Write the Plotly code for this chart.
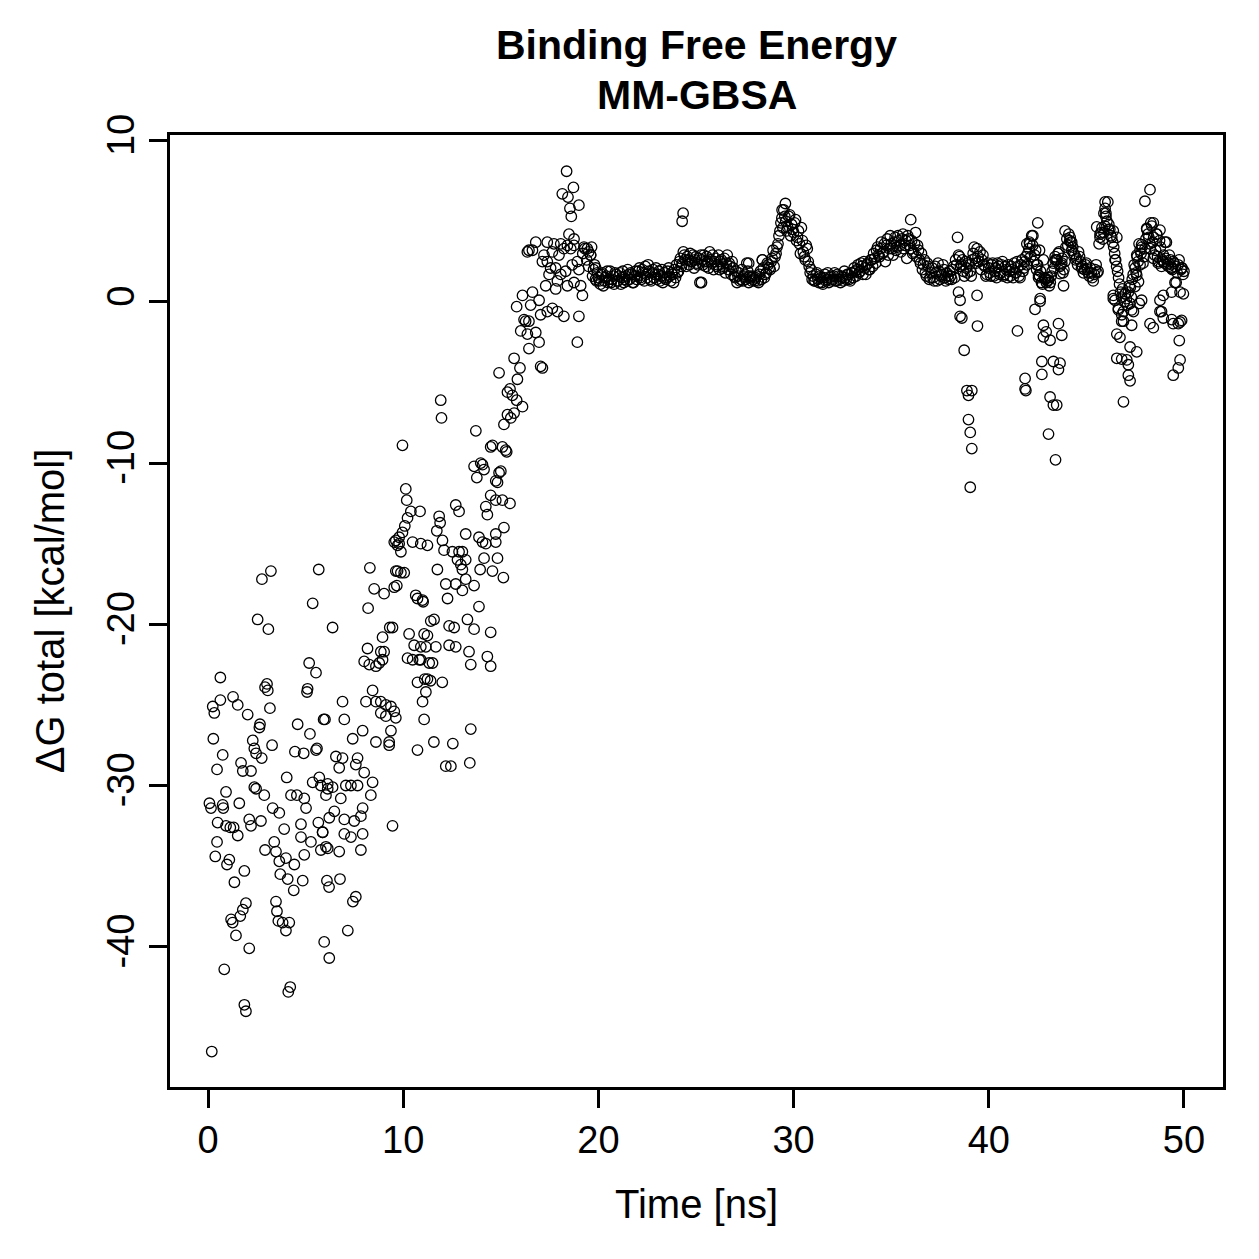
import plotly.graph_objects as go

# ---------------- data ----------------
# scattered part of the trajectory, 0 - 20 ns
early_time = [
    3.22, 2.76, 5.67, 5.36, 2.54, 3.09, 5.18, 5.53, 0.63, 3.02,
    2.92, 3.06, 5.10, 5.07, 0.63, 1.28, 1.52, 0.24, 0.32, 2.03,
    3.17, 2.66, 2.63, 4.59, 5.22, 5.92, 0.27, 2.29, 2.37, 2.46,
    2.75, 3.28, 0.75, 4.45, 4.90, 5.53, 5.58, 1.69, 1.78, 2.20,
    0.46, 4.03, 5.36, 5.70, 5.78, 6.13, 2.37, 2.46, 2.88, 0.92,
    1.60, 0.07, 0.15, 0.75, 0.78, 3.31, 3.65, 4.25, 4.55, 4.93, 5.02,
    0.49, 0.92, 1.14, 1.31, 1.52, 2.11, 2.20, 2.71, 0.46, 0.37,
    0.97, 1.09, 1.86, 1.35, 3.90, 3.39, 2.92, 3.48, 3.65, 3.99,
    3.70, 4.08, 4.42, 4.39, 4.85, 4.93, 4.76, 4.76, 5.27, 5.65,
    5.87, 5.78, 6.13, 1.94, 1.78, 1.65, 1.18, 1.26, 1.43, 2.11,
    3.48, 3.53, 3.60, 3.82, 4.16, 3.99, 5.95, 6.21, 0.83, 1.86,
    1.94, 4.21, 4.11, 0.19,
    8.29, 9.79, 9.62, 9.88, 8.51, 9.02, 9.67, 8.20, 10.73, 11.02,
    6.38, 9.31, 8.94, 8.17, 8.85, 9.02, 8.00, 8.26, 8.60, 8.77,
    8.94, 10.90, 10.90, 11.33, 11.24, 10.73,
    6.89, 6.98, 5.99, 7.92, 7.41, 8.09, 8.43, 8.60, 8.85, 9.11,
    9.37, 9.54, 8.85, 9.11, 9.62, 9.37, 8.60, 9.28, 9.28,
    6.55, 6.89, 7.66, 6.72, 7.57, 8.00, 8.43, 6.13, 6.38, 7.06,
    7.32, 7.66, 8.34, 6.80, 6.04, 7.92, 6.47, 6.21, 6.98, 7.49,
    7.83, 5.87, 6.98, 7.32, 7.92, 9.45, 6.04, 7.83, 6.72,
    7.57, 7.42, 7.16, 6.76, 6.09, 6.20,
    11.92, 11.96, 13.72, 9.96, 14.48, 15.25, 13.63, 14.06, 13.77, 14.91,
    14.83, 10.13, 10.18, 10.39, 10.22, 10.08, 9.96, 9.79, 9.62, 9.71,
    9.88, 9.54, 10.86, 12.69, 12.86, 11.84, 11.89, 11.72, 14.48, 14.74,
    15.08, 15.47, 14.23, 14.31, 15.16, 14.74, 14.74, 13.20, 13.88, 14.06,
    14.23, 10.48, 10.90, 11.24, 12.01, 12.09, 12.52, 12.86, 13.03, 12.78,
    12.95, 13.20, 13.03, 14.14, 14.83, 11.75, 13.94, 14.57, 15.13, 12.18,
    12.69, 13.03, 13.20, 13.63, 9.71, 10.05, 9.54, 10.64, 10.99, 12.27,
    13.88, 9.45, 10.30, 11.07, 11.41, 11.58, 12.35, 12.61, 13.29, 13.63,
    14.48, 11.24, 10.56, 11.16, 11.67, 12.35, 12.69, 13.37, 13.46, 14.31,
    14.48, 10.22, 10.48, 10.82, 11.50,
    11.10, 11.40, 12.00, 10.73, 11.07, 10.99, 11.16, 11.57, 12.54, 12.18,
    12.44, 13.41, 13.46,
    18.37, 18.72, 18.15, 18.44, 19.00, 18.54, 18.61, 18.49, 18.75,
    16.44, 16.79, 17.38, 17.72, 18.07, 18.41, 18.75, 19.26, 19.43, 19.60,
    19.86, 16.36, 16.62, 17.21, 17.64, 17.98, 18.23, 18.58, 17.13, 17.38,
    17.55, 17.81, 18.07, 18.32, 18.66, 18.92, 19.00, 17.47, 17.90, 17.30,
    17.81, 18.41, 18.75, 19.09, 19.18,
    16.11, 16.62, 16.96, 16.53, 15.81, 16.19, 16.44, 17.04, 17.38, 17.64,
    17.90, 18.23, 19.00, 16.02, 16.36, 16.79, 16.96, 16.44, 16.27, 18.92,
    17.04, 17.13, 15.68, 15.98, 15.85, 15.47, 15.34, 15.59, 15.81, 16.11,
    15.68, 15.34, 15.51, 15.16, 14.91, 14.57, 15.08, 15.30, 13.97, 14.14,
    15.00, 14.74, 19.20, 19.30, 19.40, 19.50, 19.50,
]
early_dg = [
    -16.7, -17.2, -16.6, -18.7, -19.7, -20.3, -22.4, -23.0, -23.3, -23.7,
    -23.9, -24.1, -24.0, -24.2, -24.7, -24.5, -25.0, -25.1, -25.5, -25.6,
    -25.2, -26.2, -26.4, -26.2, -26.8, -25.9, -27.1, -27.2, -27.7, -28.0,
    -28.3, -27.5, -28.1, -27.9, -28.0, -27.8, -27.7, -28.6, -29.1, -29.1,
    -29.0, -29.5, -29.8, -29.5, -30.0, -30.2, -30.1, -30.2, -30.6, -30.4,
    -31.1, -31.1, -31.4, -31.2, -31.4, -31.4, -31.7, -30.6, -30.6, -30.8, -31.4,
    -32.3, -32.5, -32.6, -32.6, -33.1, -32.1, -32.5, -32.2, -33.5, -34.4,
    -34.9, -34.6, -35.3, -36.0, -32.7, -33.5, -34.0, -34.1, -34.7, -34.5,
    -35.5, -35.8, -34.9, -36.5, -35.9, -34.3, -33.2, -32.4, -33.5, -32.3,
    -32.9, -34.0, -33.9, -37.3, -37.7, -38.1, -38.3, -38.5, -39.3, -40.1,
    -37.2, -37.8, -38.4, -38.5, -38.5, -39.0, -39.7, -40.7, -41.4, -43.6,
    -44.0, -42.5, -42.8, -46.5,
    -16.5, -15.0, -16.7, -16.8, -17.8, -18.1, -17.6, -19.0, -18.4, -18.6,
    -20.2, -20.2, -20.8, -21.5, -21.7, -21.7, -22.3, -22.5, -22.6, -22.4,
    -22.2, -21.4, -22.2, -22.4, -23.4, -23.6,
    -24.8, -25.9, -25.9, -26.6, -27.1, -24.8, -24.1, -24.8, -24.8, -25.0,
    -25.1, -25.4, -25.5, -25.7, -25.8, -26.6, -27.3, -27.3, -27.5,
    -28.2, -28.3, -28.3, -28.9, -28.7, -29.2, -29.8, -29.9, -30.1, -30.0,
    -30.0, -30.0, -30.6, -30.8, -30.6, -31.4, -31.6, -32.0, -32.1, -32.2,
    -31.9, -32.9, -33.0, -33.2, -33.0, -32.5, -33.8, -34.0, -34.1,
    -36.9, -37.2, -39.0, -35.8, -35.9, -36.3,
    -6.1, -7.2, -8.0, -8.9, -9.0, -9.2, -10.2, -10.1, -10.9, -10.6,
    -11.2, -11.6, -12.3, -13.0, -13.4, -13.9, -14.3, -14.6, -14.8, -15.1,
    -15.5, -14.9, -13.0, -12.6, -13.0, -13.3, -13.7, -14.2, -12.0, -12.3,
    -12.3, -12.5, -12.7, -13.2, -14.0, -14.4, -14.9, -14.4, -14.6, -14.9,
    -15.0, -14.9, -15.0, -15.1, -14.8, -15.4, -15.5, -15.5, -15.5, -16.0,
    -16.3, -16.0, -16.6, -15.9, -15.9, -16.6, -16.6, -16.7, -17.1, -17.5,
    -17.5, -17.9, -17.2, -17.6, -16.7, -16.8, -17.7, -18.2, -18.5, -18.4,
    -18.9, -20.2, -20.6, -20.6, -19.8, -19.7, -20.1, -20.2, -19.7, -20.3,
    -20.5, -20.7, -21.3, -21.4, -21.4, -21.3, -21.4, -21.7, -22.5, -22.0,
    -22.6, -22.1, -22.2, -22.2, -22.4,
    -23.4, -23.5, -23.6, -27.8, -25.9, -24.8, -24.2, -27.3, -27.4, -28.8,
    -28.8, -28.6, -26.5,
    8.1, 7.1, 6.7, 6.5, 6.0, 5.8, 5.3, 4.2, 3.9,
    3.2, 3.7, 3.7, 3.6, 3.6, 3.5, 3.5, 3.4, 3.3, 2.9,
    2.1, 3.1, 3.2, 2.9, 3.1, 2.9, 3.3, 3.3, 2.5, 2.5,
    2.1, 2.1, 1.7, 1.9, 2.3, 2.5, 2.0, 1.7, 1.3, 1.0,
    0.8, 1.0, 1.2, 1.0, 0.4,
    0.4, 0.6, 0.1, -0.2, -0.3, -1.1, -1.2, -0.8, -0.6, -0.4,
    -0.6, -0.9, -0.9, -1.8, -2.0, -1.9, -2.5, -2.9, -1.2, -2.5,
    -4.0, -4.1, -3.5, -4.1, -4.8, -5.4, -5.6, -5.8, -6.1, -6.5,
    -6.9, -7.0, -7.2, -7.6, -4.4, -8.9, -9.0, -9.3, -10.0, -10.4,
    -10.5, -11.1, 3.0, 3.3, 2.6, 3.1, 2.2,
]

# converged plateau, 19.6 - 50 ns (frames on the full tenths)
band_time = [
    19.6, 19.7, 19.8, 19.9,
    20.0, 20.1, 20.2, 20.3, 20.4, 20.5, 20.6, 20.7, 20.8, 20.9,
    21.0, 21.1, 21.2, 21.3, 21.4, 21.5, 21.6, 21.7, 21.8, 21.9,
    22.0, 22.1, 22.2, 22.3, 22.4, 22.5, 22.6, 22.7, 22.8, 22.9,
    23.0, 23.1, 23.2, 23.3, 23.4, 23.5, 23.6, 23.7, 23.8, 23.9,
    24.0, 24.1, 24.2, 24.3, 24.4, 24.5, 24.6, 24.7, 24.8, 24.9,
    25.0, 25.1, 25.2, 25.3, 25.4, 25.5, 25.6, 25.7, 25.8, 25.9,
    26.0, 26.1, 26.2, 26.3, 26.4, 26.5, 26.6, 26.7, 26.8, 26.9,
    27.0, 27.1, 27.2, 27.3, 27.4, 27.5, 27.6, 27.7, 27.8, 27.9,
    28.0, 28.1, 28.2, 28.3, 28.4, 28.5, 28.6, 28.7, 28.8, 28.9,
    29.0, 29.1, 29.2, 29.3, 29.4, 29.5, 29.6, 29.7, 29.8, 29.9,
    30.0, 30.1, 30.2, 30.3, 30.4, 30.5, 30.6, 30.7, 30.8, 30.9,
    31.0, 31.1, 31.2, 31.3, 31.4, 31.5, 31.6, 31.7, 31.8, 31.9,
    32.0, 32.1, 32.2, 32.3, 32.4, 32.5, 32.6, 32.7, 32.8, 32.9,
    33.0, 33.1, 33.2, 33.3, 33.4, 33.5, 33.6, 33.7, 33.8, 33.9,
    34.0, 34.1, 34.2, 34.3, 34.4, 34.5, 34.6, 34.7, 34.8, 34.9,
    35.0, 35.1, 35.2, 35.3, 35.4, 35.5, 35.6, 35.7, 35.8, 35.9,
    36.0, 36.1, 36.2, 36.3, 36.4, 36.5, 36.6, 36.7, 36.8, 36.9,
    37.0, 37.1, 37.2, 37.3, 37.4, 37.5, 37.6, 37.7, 37.8, 37.9,
    38.0, 38.1, 38.2, 38.3, 38.4, 38.5, 38.6, 38.7, 38.8, 38.9,
    39.0, 39.1, 39.2, 39.3, 39.4, 39.5, 39.6, 39.7, 39.8, 39.9,
    40.0, 40.1, 40.2, 40.3, 40.4, 40.5, 40.6, 40.7, 40.8, 40.9,
    41.0, 41.1, 41.2, 41.3, 41.4, 41.5, 41.6, 41.7, 41.8, 41.9,
    42.0, 42.1, 42.2, 42.3, 42.4, 42.5, 42.6, 42.7, 42.8, 42.9,
    43.0, 43.1, 43.2, 43.3, 43.4, 43.5, 43.6, 43.7, 43.8, 43.9,
    44.0, 44.1, 44.2, 44.3, 44.4, 44.5, 44.6, 44.7, 44.8, 44.9,
    45.0, 45.1, 45.2, 45.3, 45.4, 45.5, 45.6, 45.7, 45.8, 45.9,
    46.0, 46.1, 46.2, 46.3, 46.4, 46.5, 46.6, 46.7, 46.8, 46.9,
    47.0, 47.1, 47.2, 47.3, 47.4, 47.5, 47.6, 47.7, 47.8, 47.9,
    48.0, 48.1, 48.2, 48.3, 48.4, 48.5, 48.6, 48.7, 48.8, 48.9,
    49.0, 49.1, 49.2, 49.3, 49.4, 49.5, 49.6, 49.7, 49.8, 49.9,
    50.0,
]
band_dg = [
    2.9, 1.6, 2.3, 1.3,
    1.5, 1.1, 1.8, 1.3, 1.6, 1.2, 1.9, 1.4, 1.1, 1.7,
    1.3, 1.8, 1.5, 1.2, 1.6, 2.0, 1.4, 1.7, 1.2, 1.9,
    1.6, 2.1, 1.4, 1.8, 2.2, 1.5, 1.9, 1.3, 2.0, 1.7,
    1.4, 1.9, 1.6, 1.2, 1.8, 1.5, 2.1, 1.3, 1.7, 2.0,
    2.3, 1.9, 2.7, 2.4, 2.9, 2.2, 2.6, 3.0, 2.5, 2.1,
    2.8, 2.3, 1.2, 2.6, 2.9, 2.2, 2.5, 3.1, 2.4, 2.0,
    2.7, 2.3, 2.0, 2.6, 2.2, 1.8, 2.9, 2.4, 1.7, 2.1,
    1.5, 1.2, 1.8, 1.4, 1.3, 1.7, 2.4, 1.2, 1.5, 1.6,
    1.3, 1.6, 1.2, 1.9, 2.6, 1.5, 1.8, 2.3, 2.0, 2.7,
    2.2, 3.0, 3.6, 4.4, 5.2, 5.7, 5.0, 4.6, 5.4, 4.8,
    4.3, 5.1, 4.0, 3.6, 4.6, 3.1, 2.6, 3.3, 2.2, 2.0,
    1.6, 1.3, 1.8, 1.2, 1.5, 1.1, 1.7, 1.4, 1.2, 1.6,
    1.4, 1.8, 1.3, 1.6, 1.2, 1.5, 1.9, 1.4, 1.7, 1.3,
    1.8, 2.1, 1.6, 2.3, 1.9, 2.2, 2.5, 1.7, 2.4, 2.0,
    2.6, 3.0, 2.4, 3.4, 2.8, 3.7, 3.1, 2.5, 3.9, 3.3,
    3.6, 2.9, 4.0, 3.4, 3.8, 3.1, 4.2, 3.5, 2.7, 3.9,
    3.3, 3.0, 3.6, 2.8, 3.2, 2.4, 2.0, 2.6, 1.6, 2.2,
    1.5, 2.1, 1.3, 1.8, 2.4, 1.4, 1.7, 2.0, 1.3, 1.6,
    1.9, 1.4, 2.2, 2.6, 4.0, 2.8, 2.3, 1.9, 2.5, 1.8,
    2.3, 1.6, 3.0, 2.7, 3.3, 2.5, 2.0, 2.9, 2.2, 1.7,
    2.1, 1.6, 2.4, 1.9, 1.5, 2.2, 1.8, 2.5, 1.7, 2.0,
    2.3, 1.6, 2.0, 2.4, 1.8, 2.2, 1.5, 2.6, 2.1, 2.8,
    3.0, 3.6, 4.1, 2.5, 3.2, 2.3, 1.6, 1.2, 2.6, 1.4,
    1.3, 1.0, 1.6, 2.4, 2.8, 2.6, 3.1, 2.3, 1.8, 2.5,
    3.9, 4.2, 3.7, 3.4, 2.9, 2.7, 3.1, 2.5, 2.2, 2.0,
    2.4, 1.8, 2.1, 1.5, 1.7, 2.3, 1.9, 4.0, 4.6, 4.3,
    5.5, 6.2, 4.5, 4.0, 3.4, 2.6, 1.9, 1.1, 0.3, -0.6,
    0.5, -0.2, 1.0, 0.3, 1.7, 2.1, 2.8, 3.6, 3.0, 2.4,
    3.3, 4.5, 4.0, 4.9, 3.7, 2.9, 4.2, 2.5, 3.4, 2.6,
    2.4, 3.7, 2.2, 2.6, 2.0, 2.4, 1.2, 2.3, 0.6, 2.1,
    1.9,
]

# converged plateau, frames in between the tenths
band_mid_time = [
    19.65, 19.75, 19.85, 19.95,
    20.05, 20.15, 20.25, 20.35, 20.45, 20.55, 20.65, 20.75, 20.85, 20.95,
    21.05, 21.15, 21.25, 21.35, 21.45, 21.55, 21.65, 21.75, 21.85, 21.95,
    22.05, 22.15, 22.25, 22.35, 22.45, 22.55, 22.65, 22.75, 22.85, 22.95,
    23.05, 23.15, 23.25, 23.35, 23.45, 23.55, 23.65, 23.75, 23.85, 23.95,
    24.05, 24.15, 24.25, 24.35, 24.45, 24.55, 24.65, 24.75, 24.85, 24.95,
    25.05, 25.15, 25.25, 25.35, 25.45, 25.55, 25.65, 25.75, 25.85, 25.95,
    26.05, 26.15, 26.25, 26.35, 26.45, 26.55, 26.65, 26.75, 26.85, 26.95,
    27.05, 27.15, 27.25, 27.35, 27.45, 27.55, 27.65, 27.75, 27.85, 27.95,
    28.05, 28.15, 28.25, 28.35, 28.45, 28.55, 28.65, 28.75, 28.85, 28.95,
    29.05, 29.15, 29.25, 29.35, 29.45, 29.55, 29.65, 29.75, 29.85, 29.95,
    30.05, 30.15, 30.25, 30.35, 30.45, 30.55, 30.65, 30.75, 30.85, 30.95,
    31.05, 31.15, 31.25, 31.35, 31.45, 31.55, 31.65, 31.75, 31.85, 31.95,
    32.05, 32.15, 32.25, 32.35, 32.45, 32.55, 32.65, 32.75, 32.85, 32.95,
    33.05, 33.15, 33.25, 33.35, 33.45, 33.55, 33.65, 33.75, 33.85, 33.95,
    34.05, 34.15, 34.25, 34.35, 34.45, 34.55, 34.65, 34.75, 34.85, 34.95,
    35.05, 35.15, 35.25, 35.35, 35.45, 35.55, 35.65, 35.75, 35.85, 35.95,
    36.05, 36.15, 36.25, 36.35, 36.45, 36.55, 36.65, 36.75, 36.85, 36.95,
    37.05, 37.15, 37.25, 37.35, 37.45, 37.55, 37.65, 37.75, 37.85, 37.95,
    38.05, 38.15, 38.25, 38.35, 38.45, 38.55, 38.65, 38.75, 38.85, 38.95,
    39.05, 39.15, 39.25, 39.35, 39.45, 39.55, 39.65, 39.75, 39.85, 39.95,
    40.05, 40.15, 40.25, 40.35, 40.45, 40.55, 40.65, 40.75, 40.85, 40.95,
    41.05, 41.15, 41.25, 41.35, 41.45, 41.55, 41.65, 41.75, 41.85, 41.95,
    42.05, 42.15, 42.25, 42.35, 42.45, 42.55, 42.65, 42.75, 42.85, 42.95,
    43.05, 43.15, 43.25, 43.35, 43.45, 43.55, 43.65, 43.75, 43.85, 43.95,
    44.05, 44.15, 44.25, 44.35, 44.45, 44.55, 44.65, 44.75, 44.85, 44.95,
    45.05, 45.15, 45.25, 45.35, 45.45, 45.55, 45.65, 45.75, 45.85, 45.95,
    46.05, 46.15, 46.25, 46.35, 46.45, 46.55, 46.65, 46.75, 46.85, 46.95,
    47.05, 47.15, 47.25, 47.35, 47.45, 47.55, 47.65, 47.75, 47.85, 47.95,
    48.05, 48.15, 48.25, 48.35, 48.45, 48.55, 48.65, 48.75, 48.85, 48.95,
    49.05, 49.15, 49.25, 49.35, 49.45, 49.55, 49.65, 49.75, 49.85, 49.95,
]
band_mid_dg = [
    3.4, 2.0, 1.4, 1.8,
    1.3, 1.7, 1.0, 1.5, 1.9, 1.4, 1.2, 1.6, 1.8, 1.3,
    1.6, 1.1, 1.9, 1.4, 1.3, 1.7, 1.8, 1.2, 1.6, 1.4,
    1.9, 1.5, 2.0, 1.3, 1.7, 2.3, 1.4, 1.8, 1.5, 2.1,
    1.7, 1.3, 2.0, 1.5, 1.4, 1.9, 1.6, 1.8, 1.2, 1.5,
    1.8, 2.5, 2.2, 3.1, 2.6, 2.8, 2.3, 2.5, 2.9, 2.6,
    2.4, 2.7, 2.9, 2.3, 2.5, 2.8, 2.1, 2.6, 2.9, 2.5,
    2.2, 2.9, 2.5, 2.1, 2.7, 2.4, 2.0, 2.2, 2.5, 1.6,
    1.9, 1.6, 1.3, 2.0, 1.6, 1.4, 1.9, 1.6, 1.3, 1.4,
    1.5, 1.3, 1.7, 1.4, 2.1, 1.7, 2.4, 2.1, 2.5, 3.2,
    2.8, 3.4, 4.1, 4.9, 4.6, 5.3, 4.4, 5.3, 4.1, 4.5,
    4.9, 3.8, 4.4, 3.0, 3.8, 2.8, 3.5, 2.5, 1.8, 1.4,
    1.3, 1.7, 1.4, 1.6, 1.2, 1.5, 1.3, 1.8, 1.5, 1.3,
    1.6, 1.3, 1.7, 1.4, 1.6, 1.3, 1.5, 1.7, 1.4, 1.8,
    1.5, 1.9, 2.0, 1.8, 2.4, 1.7, 2.1, 2.3, 2.0, 2.6,
    2.2, 2.7, 3.2, 2.9, 3.3, 3.0, 3.6, 3.5, 2.9, 4.1,
    3.3, 3.7, 3.2, 4.1, 3.5, 3.9, 3.3, 3.8, 4.1, 3.5,
    3.8, 3.1, 4.3, 3.5, 2.6, 3.0, 2.3, 1.8, 2.4, 1.4,
    1.8, 1.5, 2.2, 1.3, 1.9, 1.6, 2.3, 1.5, 1.8, 1.4,
    1.6, 2.0, 1.5, 2.3, 2.9, 2.2, 2.6, 1.6, 2.1, 2.4,
    1.9, 2.6, 3.4, 2.4, 2.8, 3.1, 2.6, 2.3, 1.6, 2.4,
    1.8, 2.3, 1.6, 2.1, 2.4, 1.7, 2.3, 1.6, 2.2, 1.5,
    1.9, 2.2, 1.5, 1.8, 2.5, 1.6, 2.3, 1.9, 2.5, 2.3,
    3.3, 2.8, 3.5, 2.9, 2.0, 1.5, 1.9, 1.1, 1.5, 1.2,
    1.5, 1.2, 1.9, 2.1, 2.6, 3.0, 2.2, 2.7, 2.0, 3.4,
    3.5, 3.8, 3.2, 3.0, 2.6, 2.3, 2.8, 2.1, 1.8, 2.3,
    2.0, 1.6, 1.8, 1.3, 2.0, 1.8, 3.6, 4.3, 3.9, 4.7,
    5.0, 4.8, 4.1, 3.7, 3.0, 2.2, 1.5, 0.6, 0.8, 0.0,
    0.2, 0.6, 0.9, 1.4, 2.3, 1.8, 2.5, 3.2, 3.4, 2.8,
    3.9, 4.2, 3.6, 4.7, 4.0, 3.2, 2.8, 3.8, 2.2, 2.9,
    2.7, 2.3, 2.9, 2.1, 2.5, 2.2, 1.8, 2.6, 2.0, 1.7,
]

# excursions away from the plateau after 20 ns
extra_time = [
    24.34, 24.29, 25.28, 27.70, 28.40, 29.58, 29.41, 36.00,
    38.45, 38.53, 38.53, 38.62, 38.74, 38.88, 38.96, 38.96, 39.05, 39.05,
    39.13, 39.13, 39.40, 39.42,
    41.47, 41.86, 41.86, 41.90, 42.37, 42.63, 42.72, 42.72, 42.80, 42.80,
    42.94, 43.06, 43.14, 43.14, 43.31, 43.31, 43.42, 43.48, 43.57, 43.57, 43.65, 43.74,
    42.51, 43.91, 44.17, 44.25, 42.26, 42.08, 41.95, 42.60, 42.46, 42.55,
    42.89, 43.06, 42.63, 43.40, 43.74, 43.65, 43.83,
    45.53, 45.70, 45.90, 45.96, 45.96, 46.00, 46.13, 46.38, 46.56, 46.47,
    46.38, 46.38, 46.47, 46.56, 46.56, 46.64, 46.64, 46.72, 46.81, 46.81,
    46.81, 46.90, 46.90, 46.98,
    47.07, 47.15, 47.15, 47.24, 47.24, 47.24, 47.32, 47.32, 47.41, 47.49,
    47.58, 47.58, 47.67, 47.71, 47.83,
    47.58, 47.75, 47.83, 48.00, 48.09, 48.26, 48.26, 48.26, 48.43, 48.43,
    48.43, 48.60, 48.68, 48.77, 48.77, 48.77,
    48.85, 48.94, 48.94, 48.94, 49.03, 49.20, 49.37, 49.37, 49.37, 49.45,
    49.45, 49.54,
    49.71, 49.71, 49.76, 49.80, 49.80, 49.88, 49.88, 49.97,
]
extra_dg = [
    5.5, 5.0, 1.2, 2.4, 2.6, 6.1, 5.7, 5.1,
    0.6, 0.1, -0.9, -1.0, -3.0, -5.5, -5.8, -7.3, -8.1, -11.5,
    -5.5, -9.1, 0.4, -1.5,
    -1.8, -4.75, -5.4, -5.5, -0.46, 0.04, -3.7, -4.5, -1.45, -2.17,
    -1.86, -8.2, -2.38, -5.9, -3.7, -6.4, -9.8, -6.4, -1.35, -4.2, -3.8, -2.07,
    4.9, 4.4, 4.0, 3.7, 4.1, 3.7, 3.6, 3.2, 2.3, 1.65,
    1.45, 1.35, 0.2, 2.6, 2.4, 1.75, 1.0,
    4.65, 4.2, 5.5, 6.2, 5.8, 5.3, 4.5, 4.4, 4.0, 2.6,
    0.2, 0.4, 0.1, -2.0, -3.5, -0.5, -0.4, -2.2, -1.2, -0.8,
    -3.55, -1.2, -6.2, 0.5,
    -3.6, -3.9, -4.55, -2.8, -4.9, -0.1, -1.45, -0.5, -0.6, 0.95,
    -3.1, 1.65, 1.25, -0.1, 0.1,
    2.9, 2.3, 3.55, 6.24, 4.55, 6.96, 3.3, -1.35, 4.9, 2.7,
    -1.6, 4.2, 2.4, 4.45, 0.1, -0.6,
    -0.6, 2.5, 0.4, -1.0, 3.7, 2.4, 2.1, 0.6, -1.1, -1.35,
    -4.55, 1.2,
    -1.35, -4.1, -2.4, -3.6, -1.25, -1.15, 2.1, 0.5,
]

x_ticks = [0, 10, 20, 30, 40, 50]
y_ticks = [-40, -30, -20, -10, 0, 10]
y_tick_text = ["-40", "-30", "-20", "-10", "0", "10"]
title_lines = ["Binding Free Energy", "MM-GBSA"]

# ---------------- figure ----------------
FONT = "Liberation Sans, Arial, Helvetica, sans-serif"
marker = dict(symbol="circle-open", size=10.5, color="black",
              line=dict(color="black", width=1.3))

fig = go.Figure()
for xs, ys in ((early_time, early_dg), (band_time, band_dg),
               (band_mid_time, band_mid_dg), (extra_time, extra_dg)):
    fig.add_trace(go.Scatter(x=xs, y=ys, mode="markers", marker=marker,
                             showlegend=False, hoverinfo="skip"))

axis_common = dict(
    showline=True, mirror=True, linecolor="black", linewidth=2.5,
    ticks="outside", ticklen=18, tickwidth=2.5, tickcolor="black",
    showgrid=False, zeroline=False,
    tickfont=dict(family=FONT, size=38, color="black"),
    title_font=dict(family=FONT, size=40, color="black"),
    automargin=False,
)

fig.update_layout(
    width=1259, height=1259,
    paper_bgcolor="white", plot_bgcolor="white",
    margin=dict(l=170, r=36, t=135, b=172),
    xaxis=dict(range=[-1.95, 52.0], tickvals=x_ticks,
               title=dict(text="Time [ns]", standoff=30), **axis_common),
    yaxis=dict(range=[-48.7, 10.35], tickvals=y_ticks, ticktext=y_tick_text,
               tickangle=-90,
               title=dict(text="ΔG total [kcal/mol]", standoff=24), **axis_common),
)

# two-line bold title, placed above the plot box
for line_text, y_pos in zip(title_lines, (1.0945, 1.042)):
    fig.add_annotation(text="<b>%s</b>" % line_text, xref="paper", yref="paper",
                       x=0.5, y=y_pos, xanchor="center", yanchor="middle",
                       showarrow=False,
                       font=dict(family=FONT, size=41, color="black"))

fig.write_html("out.html")
